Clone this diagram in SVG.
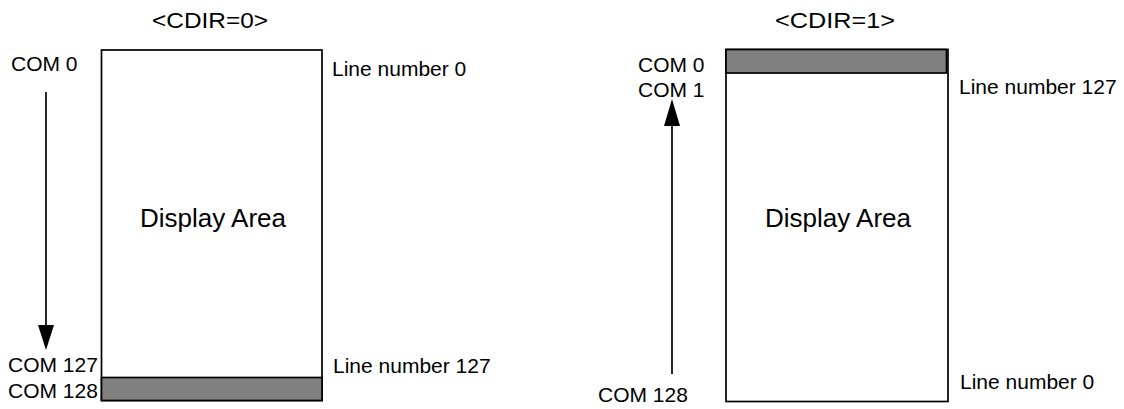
<svg xmlns="http://www.w3.org/2000/svg" width="1124" height="409" viewBox="0 0 1124 409">
<style>
text{font-family:"Liberation Sans",Arial,sans-serif;fill:#000}
.lbl{font-size:21px}
.ttl{font-size:22px}
.area{font-size:26px}
.box{fill:#fff;stroke:#000;stroke-width:1.7}
.band{fill:#808080;stroke:#000;stroke-width:1.7}
.conn line{stroke:#000;stroke-width:1.7}
.conn polygon{fill:#000}
</style>
<rect width="1124" height="409" fill="#fff"/>
<g id="cdir0">
<text class="ttl" x="152" y="28" textLength="116" lengthAdjust="spacingAndGlyphs">&lt;CDIR=0&gt;</text>
<rect class="box" x="101.5" y="50" width="220.5" height="350.5"/>
<rect class="band" x="101.5" y="377.5" width="220.5" height="23"/>
<text class="area" x="140" y="227">Display Area</text>
<text class="lbl" x="11" y="71">COM 0</text>
<text class="lbl" x="8" y="372">COM 127</text>
<text class="lbl" x="8" y="398">COM 128</text>
<text class="lbl" x="332" y="76">Line number 0</text>
<text class="lbl" x="333" y="373">Line number 127</text>
</g>
<g id="cdir1">
<text class="ttl" x="775" y="28" textLength="120" lengthAdjust="spacingAndGlyphs">&lt;CDIR=1&gt;</text>
<rect class="box" x="726" y="49.5" width="222" height="352"/>
<rect class="band" x="726" y="49.5" width="220.5" height="23.5"/>
<text class="area" x="765" y="227">Display Area</text>
<text class="lbl" x="638" y="72">COM 0</text>
<text class="lbl" x="638" y="97">COM 1</text>
<text class="lbl" x="598" y="402">COM 128</text>
<text class="lbl" x="959" y="94">Line number 127</text>
<text class="lbl" x="960" y="389">Line number 0</text>
</g>
<g id="connectors" class="conn">
<line x1="46" y1="92" x2="46" y2="326"/>
<polygon points="38,325 54,325 46,350"/>
<line x1="672" y1="125" x2="672" y2="374"/>
<polygon points="664,126 680,126 672,99"/>
</g>
</svg>
